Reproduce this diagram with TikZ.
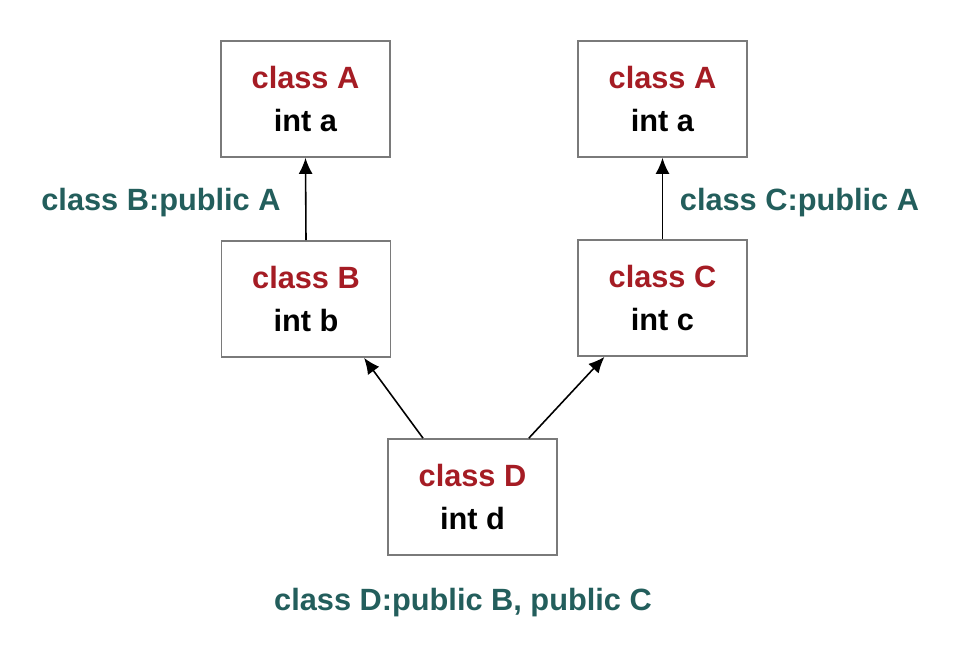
\documentclass[tikz,border=0pt]{standalone}
\usepackage{fontspec}
\setmainfont{Liberation Sans}
\usepackage{tikz}
\usetikzlibrary{arrows.meta, calc}
\definecolor{clsred}{HTML}{A51C24}
\definecolor{inhgreen}{HTML}{235E5C}
\tikzstyle{classbox} = [rectangle, minimum width=3.38cm, minimum height=2.32cm, draw=black!52, line width=1pt, fill=white, align=center, font=\bfseries\fontsize{17.5}{25}\selectfont]
\tikzstyle{inherit} = [font=\bfseries\fontsize{17.5}{21}\selectfont, text=inhgreen]
\tikzstyle{arrow} = [line width=0.9pt,->,>={Latex[length=3.2mm,width=2.8mm]}]
\newcommand{\cls}[2]{\textcolor{clsred}{class #1}\\int #2}

\begin{document}
\begin{tikzpicture}[x=0.02cm, y=-0.02cm]
\useasboundingbox (0,0) rectangle (964,652);

\node (leftA) [classbox] at (305.5,99) {\cls{A}{a}};
\node (rightA) [classbox] at (662.5,99) {\cls{A}{a}};
\node (classB) [classbox] at (306,299) {\cls{B}{b}};
\node (classC) [classbox] at (662.5,298) {\cls{C}{c}};
\node (classD) [classbox] at (472.5,497) {\cls{D}{d}};

\node (inhB) [inherit] at (161,203) {class B:public A};
\node (inhC) [inherit] at (799.5,203) {class C:public A};
\node (inhD) [inherit] at (463,603) {class D:public B, public C};

\draw [arrow] (classB.north) -- (leftA.south);
\draw [arrow] (classC.north) -- (rightA.south);
\draw [arrow] ($(classD.north west)!0.21!(classD.north east)$) -- ($(classB.south west)!0.84!(classB.south east)$);
\draw [arrow] ($(classD.north west)!0.83!(classD.north east)$) -- ($(classC.south west)!0.16!(classC.south east)$);

\end{tikzpicture}
\end{document}
